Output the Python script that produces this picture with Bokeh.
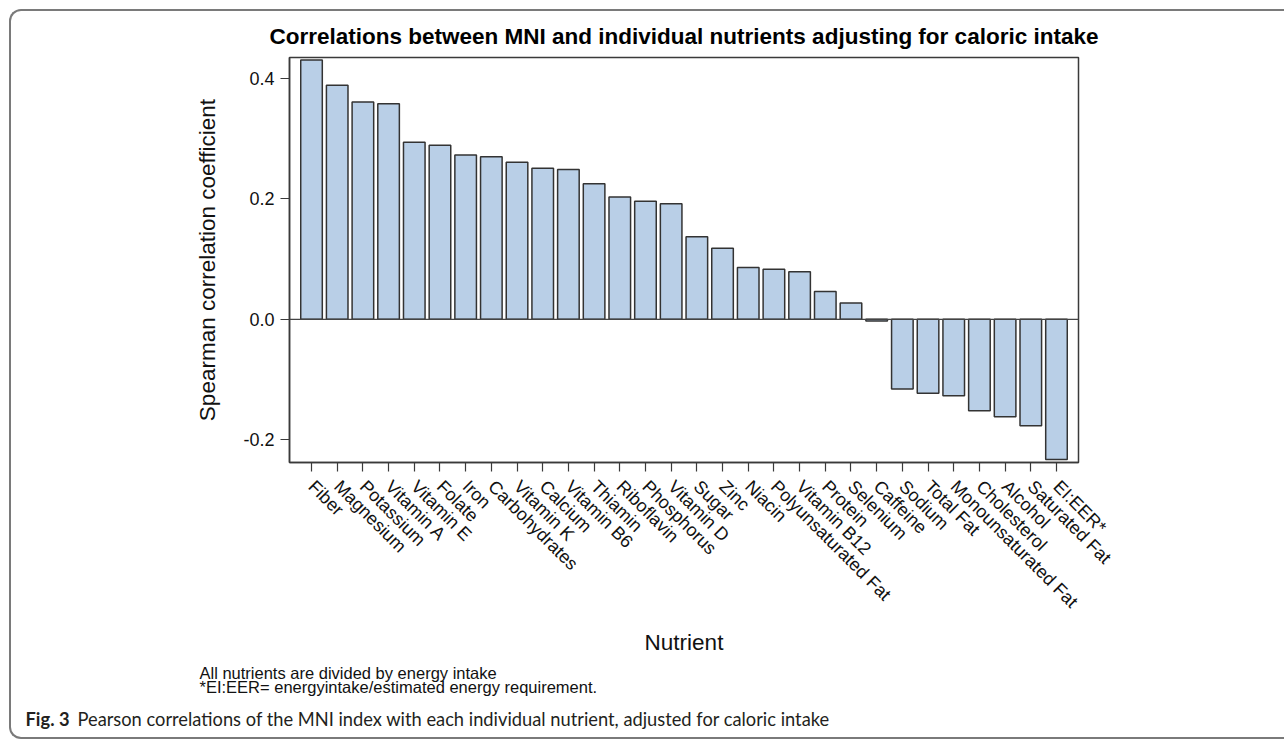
import math
from bokeh.plotting import figure
from bokeh.models import FactorRange, Range1d, FixedTicker, Span, NumeralTickFormatter, Label
from bokeh.layouts import column
from bokeh.embed import file_html
from bokeh.resources import INLINE

# ---------------- data ----------------
nutrients = ["Fiber", "Magnesium", "Potassium", "Vitamin A", "Vitamin E", "Folate", "Iron",
             "Carbohydrates", "Vitamin K", "Calcium", "Vitamin B6", "Thiamin", "Riboflavin",
             "Phosphorus", "Vitamin D", "Sugar", "Zinc", "Niacin", "Polyunsaturated Fat",
             "Vitamin B12", "Protein", "Selenium", "Caffeine", "Sodium", "Total Fat",
             "Monounsaturated Fat", "Cholesterol", "Alcohol", "Saturated Fat", "EI:EER*"]
corr = [0.431, 0.389, 0.361, 0.358, 0.294, 0.289, 0.273,
        0.270, 0.261, 0.251, 0.249, 0.225, 0.203,
        0.196, 0.192, 0.137, 0.118, 0.086, 0.083,
        0.079, 0.046, 0.027, -0.003, -0.116, -0.123,
        -0.127, -0.152, -0.162, -0.177, -0.233]
y_ticks = [-0.2, 0.0, 0.2, 0.4]
title_text = "Correlations between MNI and individual nutrients adjusting for caloric intake"
y_label = "Spearman correlation coefficient"
x_label = "Nutrient"
footnotes = ["All nutrients are divided by energy intake",
             "*EI:EER= energyintake/estimated energy requirement."]
caption_bold = "Fig. 3"
caption_text = "Pearson correlations of the MNI index with each individual nutrient, adjusted for caloric intake"

# ---------------- layout ----------------
FONT = "Liberation Sans"
CAP_FONT = "Lato"
BORDER = "2px solid #7a7a7a"

p = figure(width=1273, height=726,
           x_range=FactorRange(factors=nutrients, range_padding=0.357, range_padding_units="absolute"),
           y_range=Range1d(-0.238, 0.435),
           output_backend="svg", toolbar_location=None,
           min_border_left=278, min_border_right=206, min_border_top=46, min_border_bottom=275)
p.background_fill_color = None
p.border_fill_color = None
p.outline_line_color = "#3a3a3a"
p.outline_line_width = 1.5
p.xgrid.visible = False
p.ygrid.visible = False

p.title.text = title_text
p.title.align = "center"
p.title.text_font = FONT
p.title.text_font_size = "22.5px"
p.title.text_font_style = "bold"
p.title.text_color = "#000000"
p.title.standoff = 18

p.vbar(x=nutrients, top=corr, bottom=0, width=0.84,
       fill_color="#b9cfe7", line_color="#333333", line_width=1.5)
p.add_layout(Span(location=0, dimension="width", line_color="#444444", line_width=1.2))

for ax in (p.xaxis[0], p.yaxis[0]):
    ax.axis_line_color = "#3a3a3a"
    ax.axis_line_width = 1.5
    ax.major_tick_line_color = "#3a3a3a"
    ax.major_tick_line_width = 1.2
    ax.major_tick_out = 9
    ax.major_tick_in = 0
    ax.minor_tick_line_color = None
    ax.major_label_text_font = FONT
    ax.major_label_text_font_size = "18px"
    ax.major_label_text_color = "#111111"
    ax.axis_label_text_font = FONT
    ax.axis_label_text_font_size = "22.5px"
    ax.axis_label_text_font_style = "normal"
    ax.axis_label_text_color = "#111111"

p.yaxis.ticker = FixedTicker(ticks=y_ticks)
p.yaxis.formatter = NumeralTickFormatter(format="0.0")
p.yaxis.major_label_standoff = 6
p.yaxis.axis_label = y_label
p.yaxis.axis_label_standoff = 20

p.xaxis.major_label_orientation = -math.pi / 4
p.xaxis.major_label_standoff = 12
p.xaxis.axis_label = x_label
p.xaxis.axis_label_standoff = 8

# footnotes and caption, placed in the panels below the x axis (not clipped to the frame)
note_y = [3, 7]
for note, ny in zip(footnotes, note_y):
    p.add_layout(Label(x=-90, y=ny, x_units="screen", y_units="screen", text=note,
                       text_font=FONT, text_font_size="16.5px", text_baseline="middle",
                       text_align="left", text_color="#111111"), "below")
p.add_layout(Label(x=-264, y=-3, x_units="screen", y_units="screen", text=caption_bold,
                   text_font=CAP_FONT, text_font_style="bold", text_font_size="18.3px",
                   text_baseline="middle", text_align="left", text_color="#231f20"), "below")
p.add_layout(Label(x=-212, y=19, x_units="screen", y_units="screen", text=caption_text,
                   text_font=CAP_FONT, text_font_size="18.3px",
                   text_baseline="middle", text_align="left", text_color="#231f20"), "below")

layout = column(p)
layout.margin = (9, 0, 0, 9)
layout.styles = {"border-left": BORDER, "border-top": BORDER, "border-bottom": BORDER,
                 "border-right": "0px none transparent",
                 "border-top-left-radius": "12px", "border-bottom-left-radius": "12px",
                 "border-top-right-radius": "0px", "border-bottom-right-radius": "0px"}

open("out.html", "w").write(file_html(layout, INLINE))
